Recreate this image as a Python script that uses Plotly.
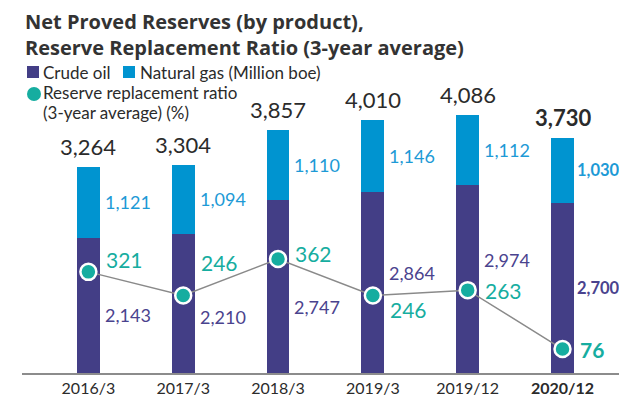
import plotly.graph_objects as go

categories = ["2016/3", "2017/3", "2018/3", "2019/3", "2019/12", "2020/12"]
crude_oil = [2143, 2210, 2747, 2864, 2974, 2700]
natural_gas = [1121, 1094, 1110, 1146, 1112, 1030]
totals = [3264, 3304, 3857, 4010, 4086, 3730]
ratio = [321, 246, 362, 246, 263, 76]
title_lines = ["Net Proved Reserves (by product),", "Reserve Replacement Ratio (3-year average)"]

# styling
C_OIL = "#433E86"
C_GAS = "#0094D0"
C_RATIO = "#16ADA0"
C_GAS_TXT = "#1D9AD6"
C_OIL_TXT = "#4A438E"
C_TXT = "#2b2b2b"
FONT = "Lato"
TFONT = "Open Sans"
OFF = 8                      # page body margin offset
W, H = 627 - OFF, 403 - OFF
ML, MR, MT, MB = 22 - OFF, 0, 57 - OFF, 30
BW = 0.24
oil_shift = [-10, -14, -21, 10, 19, 0]
ratio_shift = [12, 33, 5, -14, 0, 0]
XR = [-0.7, 5.68]
YMAX = 5008
Y2MAX = 1003

x = list(range(len(categories)))

fig = go.Figure()
fig.add_trace(go.Bar(x=x, y=crude_oil, width=BW, marker=dict(color=C_OIL, line=dict(width=0)), name="Crude oil"))
fig.add_trace(go.Bar(x=x, y=natural_gas, width=BW, marker=dict(color=C_GAS, line=dict(width=0)), name="Natural gas"))
fig.add_trace(go.Scatter(x=x, y=ratio, yaxis="y2", mode="lines+markers",
                         line=dict(color="#8a8a8a", width=1.5),
                         marker=dict(size=16, color=C_RATIO, line=dict(color="white", width=2.5)),
                         name="Ratio"))

def b(s, last):
    return f"<b>{s}</b>" if last else s

ann = []
n = len(categories)
for i in range(n):
    last = i == n - 1
    seg_size = 16.5 if last else 18
    seg_dx = 2 if last else 4
    ann.append(dict(x=i, y=totals[i], text=b(f"{totals[i]:,}", last), showarrow=False,
                    xanchor="center", yanchor="bottom", yshift=5,
                    font=dict(size=22, color=C_TXT, family=FONT)))
    ann.append(dict(x=i + BW / 2, y=crude_oil[i] + natural_gas[i] / 2, text=b(f"{natural_gas[i]:,}", last),
                    showarrow=False, xanchor="left", yanchor="middle", xshift=seg_dx, borderpad=0,
                    font=dict(size=seg_size, color=C_GAS_TXT, family=FONT)))
    ann.append(dict(x=i + BW / 2, y=crude_oil[i] / 2, text=b(f"{crude_oil[i]:,}", last),
                    showarrow=False, xanchor="left", yanchor="middle", xshift=seg_dx, yshift=oil_shift[i],
                    borderpad=0, font=dict(size=seg_size, color=C_OIL_TXT, family=FONT)))
    ann.append(dict(x=i + BW / 2, y=ratio[i], yref="y2", text=b(f"{ratio[i]}", last),
                    showarrow=False, xanchor="left", yanchor="middle", xshift=4, yshift=ratio_shift[i],
                    font=dict(size=21, color=C_RATIO, family=FONT)))

PW = W - ML - MR
PH = H - MT - MB
def px(xp):   # reference window pixel -> paper
    return (xp - OFF - ML) / PW
def py(yp):
    return (H - MB - (yp - OFF)) / PH

# legend (manual)
shapes = [
    dict(type="rect", xref="paper", yref="paper", x0=px(27), x1=px(39), y0=py(78), y1=py(66),
         fillcolor=C_OIL, line=dict(width=0)),
    dict(type="rect", xref="paper", yref="paper", x0=px(123), x1=px(135), y0=py(78), y1=py(66),
         fillcolor=C_GAS, line=dict(width=0)),
    dict(type="circle", xref="paper", yref="paper", x0=px(27), x1=px(41), y0=py(101), y1=py(87),
         fillcolor=C_RATIO, line=dict(width=0)),
]
lg = dict(showarrow=False, xref="paper", yref="paper", xanchor="left", yanchor="middle", borderpad=0,
          font=dict(size=17, color=C_TXT, family=FONT))
ann.append(dict(lg, x=px(42), y=py(72), text="Crude oil"))
ann.append(dict(lg, x=px(139), y=py(72), text="Natural gas (Million boe)"))
ann.append(dict(lg, x=px(42), y=py(92), text="Reserve replacement ratio"))
ann.append(dict(lg, x=px(42), y=py(112), text="(3-year average) (%)"))

# title (two lines)
for line, yc in zip(title_lines, [21.5, 47]):
    ann.append(dict(showarrow=False, xref="paper", yref="paper", xanchor="left", yanchor="middle",
                    align="left", x=px(24), y=py(yc), borderpad=0, text=f"<b>{line}</b>",
                    font=dict(size=20, color="#333333", family=TFONT)))

ticktext = [b(c, i == n - 1) for i, c in enumerate(categories)]

fig.update_layout(
    width=W, height=H,
    margin=dict(l=ML, r=MR, t=MT, b=MB, autoexpand=False),
    paper_bgcolor="white", plot_bgcolor="white",
    barmode="stack", showlegend=False,
    font=dict(family=FONT, color=C_TXT),
    xaxis=dict(range=XR, tickmode="array", tickvals=x, ticktext=ticktext, showgrid=False,
               showline=True, linecolor="#8c8c8c", linewidth=2, ticks="", zeroline=False,
               tickfont=dict(size=16, color=C_TXT, family=FONT)),
    yaxis=dict(range=[0, YMAX], visible=False, showgrid=False),
    yaxis2=dict(range=[0, Y2MAX], overlaying="y", visible=False, showgrid=False),
    annotations=ann, shapes=shapes,
)

fig.write_html("out.html")
